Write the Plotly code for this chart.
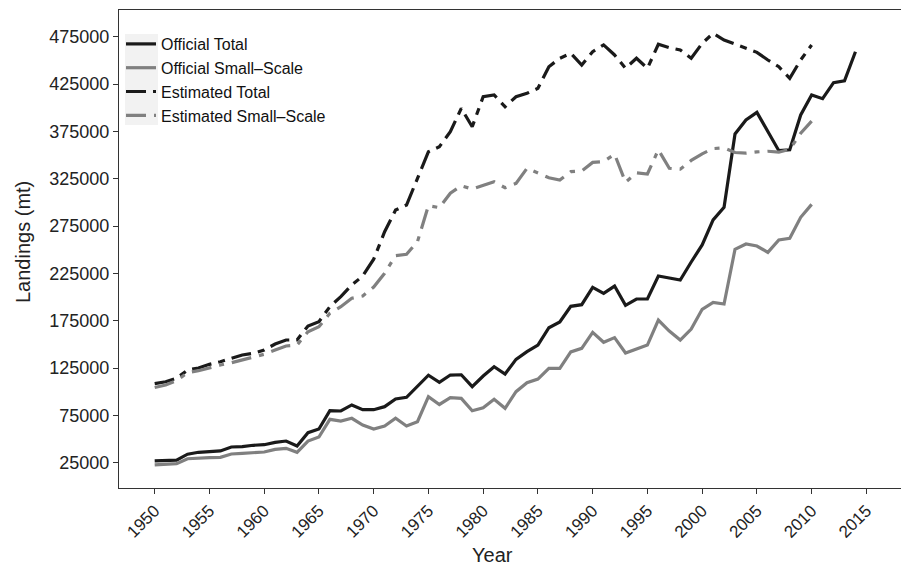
import plotly.graph_objects as go

years_long = list(range(1950, 2015))
years = list(range(1950, 2011))

official_total = [27000, 27300, 27800, 34000, 36000, 36700, 37400, 41600, 42000, 43400,
                  44000, 46500, 47900, 42600, 56700, 60600, 79900, 79600, 86000, 81000,
                  81000, 84200, 92300, 94100, 105300, 117400, 109800, 117600, 117900, 105300,
                  116600, 126400, 118700, 134200, 142300, 149300, 167600, 173600, 190200, 191900,
                  210200, 203900, 211600, 191300, 197900, 197900, 222200, 219800, 218000, 237000,
                  255000, 281400, 294800, 372200, 387000, 395100, 374600, 354600, 355500, 392300,
                  413400, 409500, 426400, 428500, 459100]

official_small = [22600, 22900, 24000, 29200, 30000, 30300, 30700, 34200, 34900, 35300,
                  36300, 39100, 40200, 36000, 47900, 52100, 70800, 69000, 71900, 64800,
                  60600, 63800, 71900, 63800, 68300, 94700, 86500, 93700, 93000, 79900,
                  83100, 92000, 82500, 100000, 109500, 113400, 124700, 124700, 142000, 145800,
                  162700, 152200, 157100, 140900, 145100, 149300, 175700, 164100, 154600, 166200,
                  187000, 194400, 192600, 250400, 256000, 253900, 247200, 260200, 262000, 284200,
                  297900]

estimated_total = [108500, 110500, 114200, 122900, 125000, 128900, 131700, 135300, 138800, 140600,
                   144000, 150400, 154600, 154600, 169400, 174000, 189800, 200400, 212700, 222200,
                   240000, 269000, 291900, 297200, 325400, 353500, 358800, 374600, 399300, 379900,
                   411600, 413400, 401000, 411600, 415200, 420500, 443300, 452200, 457500, 445100,
                   459200, 466300, 455700, 441600, 452200, 441600, 467000, 463400, 461000, 452200,
                   468000, 478600, 471500, 467000, 462700, 458500, 450400, 443300, 431000, 450400,
                   466300]

estimated_small = [104500, 107100, 111600, 120100, 122200, 125400, 128200, 130600, 133500, 135900,
                   139500, 144000, 148300, 149300, 163400, 168700, 182800, 189800, 198700, 201100,
                   210500, 225100, 243700, 245100, 258500, 296500, 294400, 309600, 317600, 314100,
                   318300, 321800, 315500, 320100, 336000, 330700, 326000, 323600, 332400, 333100,
                   342200, 343100, 350900, 321200, 331200, 330000, 355600, 336000, 335100, 344300,
                   351300, 356800, 357600, 352700, 352000, 353300, 354000, 353000, 356000, 373000,
                   385800]

x_ticks = list(range(1950, 2020, 5))
x_tick_labels = [str(v) for v in x_ticks]
y_ticks = list(range(25000, 500000, 50000))
y_tick_labels = [str(v) for v in y_ticks]

BLACK = "#1a1a1a"
GREY = "#808080"
LW = 3.2
FONT = "Liberation Sans, Arial, Helvetica, sans-serif"

fig = go.Figure()
fig.add_trace(go.Scatter(x=years_long, y=official_total, mode="lines", name="Official Total",
                         line=dict(color=BLACK, width=LW)))
fig.add_trace(go.Scatter(x=years, y=official_small, mode="lines", name="Official Small\u2013Scale",
                         line=dict(color=GREY, width=LW)))
fig.add_trace(go.Scatter(x=years, y=estimated_total, mode="lines", name="Estimated Total",
                         line=dict(color=BLACK, width=LW, dash="20px,7px,7px,7px")))
fig.add_trace(go.Scatter(x=years, y=estimated_small, mode="lines", name="Estimated Small\u2013Scale",
                         line=dict(color=GREY, width=LW, dash="20px,8px,5px,8px")))

W, H = 901, 566
L, R, T, B = 119, 0, 10, 78
plot_w = W - L - R
plot_h = H - T - B


def px_x(p):
    return (p - L) / plot_w


def px_y(p):
    return 1 - (p - T) / plot_h


fig.update_layout(
    width=W, height=H,
    margin=dict(l=L, r=R, t=T, b=B, autoexpand=False),
    plot_bgcolor="white", paper_bgcolor="white",
    font=dict(family=FONT, color="#222222"),
    showlegend=True,
    legend=dict(x=px_x(121), y=px_y(27), xanchor="left", yanchor="top",
                bgcolor="rgba(0,0,0,0)", font=dict(size=16, color="#111111", family=FONT),
                tracegroupgap=0, itemwidth=30),
    xaxis=dict(range=[1946.74, 2018.16], tickvals=x_ticks, ticktext=x_tick_labels,
               tickangle=-45, ticks="outside", ticklen=5, tickwidth=1, tickcolor="#333333",
               showline=True, linecolor="#333333", linewidth=1.2, mirror=True,
               showgrid=False, zeroline=False, automargin=False,
               tickfont=dict(size=17, color="#222222", family=FONT)),
    yaxis=dict(range=[-1724, 503203], tickvals=y_ticks, ticktext=y_tick_labels,
               ticks="outside", ticklen=5, tickwidth=1, tickcolor="#333333",
               showline=True, linecolor="#333333", linewidth=1.2, mirror=False,
               showgrid=False, zeroline=False, automargin=False,
               tickfont=dict(size=18, color="#222222", family=FONT)),
    shapes=[dict(type="rect", xref="paper", yref="paper", layer="below",
                 x0=px_x(125), x1=px_x(158), y0=px_y(125), y1=px_y(34),
                 fillcolor="#f2f2f2", line=dict(width=0))],
    annotations=[
        dict(text="Year", x=px_x(492), y=px_y(555), xref="paper", yref="paper",
             xanchor="center", yanchor="middle", showarrow=False,
             font=dict(size=20, color="#222222", family=FONT)),
        dict(text="Landings (mt)", x=px_x(23), y=px_y(242), xref="paper", yref="paper",
             xanchor="center", yanchor="middle", showarrow=False, textangle=-90,
             font=dict(size=20, color="#222222", family=FONT)),
    ],
)

fig.write_html(
    "out.html",
    config={"displayModeBar": False},
    post_script="document.body.style.margin='0';document.body.style.overflow='hidden';",
)
